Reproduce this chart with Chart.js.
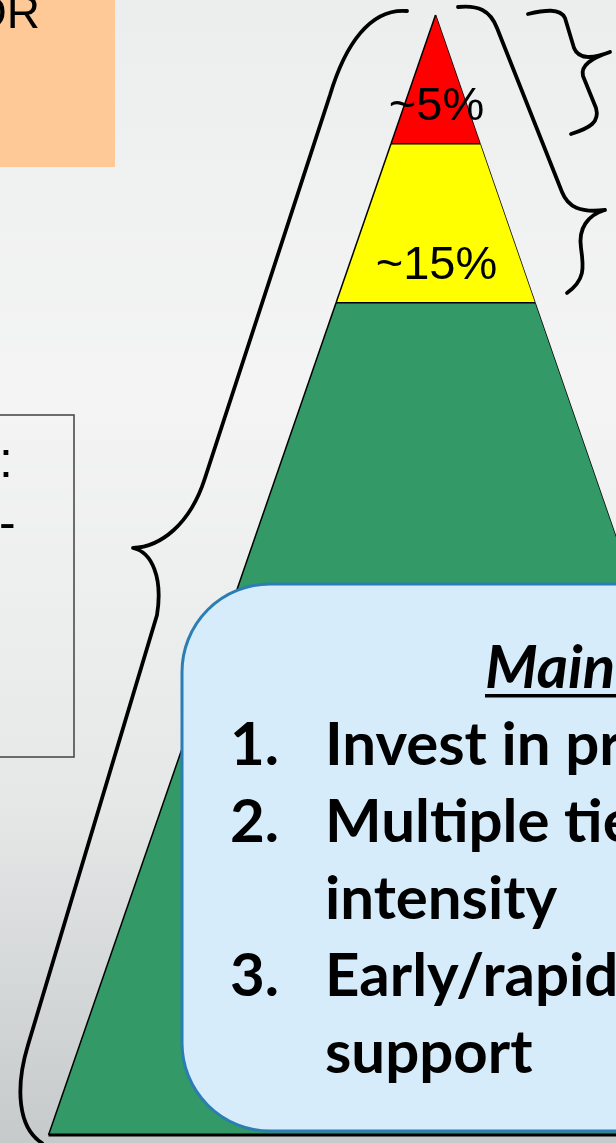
<!DOCTYPE html>
<html>
<head>
<meta charset="utf-8">
<title>Tiered support pyramid</title>
<script src="https://cdn.jsdelivr.net/npm/chart.js@4.4.1/dist/chart.umd.min.js"></script>
<style>
  html, body { margin: 0; padding: 0; }
  body {
    width: 616px; height: 1143px; overflow: hidden;
    background: linear-gradient(180deg, #eceeee 0%, #f4f4f4 35%, #e6e8e8 70%, #c6caca 100%);
  }
  canvas { display: block; }
</style>
</head>
<body>
<canvas id="pyramid" width="616" height="1143"></canvas>
<script>
// tiers, from the top of the pyramid down to the base
const tierNames = ['Tier 3', 'Tier 2', 'Tier 1'];
const tierLabels = ['~5%', '~15%', ''];
// tier edges as % of the pyramid height (apex = 100, base = 0)
const tierTops = [100, 88.5, 74.3];
const tierBottoms = [88.5, 74.3, 0];
const tierColors = ['#ff0000', '#ffff00', '#339966'];

// text of the call-out box (it runs off the slide on the right)
const boxTitle = 'Main';
const boxNumbers = ['1.', '2.', '', '3.', ''];
const boxLines = ['Invest in pr', 'Multiple tie', 'intensity', 'Early/rapid', 'support'];

// point on the left (-1) or right (+1) side of the pyramid at height v
const edge = (v, side) => ({ x: side * (100 - v) / 2, y: v });

const datasets = [];
// outlines first so they are drawn over the fills
tierBottoms.forEach(b => {
    datasets.push({
        data: [edge(b, -1), edge(b, 1)],
        borderColor: '#000',
        borderWidth: b === 0 ? 3 : 1.5,
        fill: false
    });
});
tierNames.forEach((name, i) => {
    datasets.push({
        label: name,
        data: [edge(tierBottoms[i], -1), edge(tierTops[i], -1)],
        borderColor: '#000',
        borderWidth: 1.5,
        backgroundColor: tierColors[i],
        fill: '+1'
    });
    datasets.push({
        label: name,
        data: [edge(tierBottoms[i], 1), edge(tierTops[i], 1)],
        borderColor: '#000',
        borderWidth: 1.5,
        fill: false
    });
});

function brace(ctx, parts) {
    ctx.beginPath();
    parts.forEach(p => {
        if (p.length === 2) ctx.moveTo(p[0], p[1]);
        else if (p.length === 3) ctx.lineTo(p[1], p[2]);
        else ctx.bezierCurveTo(...p);
    });
    ctx.stroke();
}

const annotations = {
    id: 'annotations',

    afterDatasetsDraw(chart) {
        const { ctx, scales: { x, y } } = chart;
        ctx.save();
        ctx.fillStyle = '#000';
        ctx.font = '47px "Liberation Sans", Arial, sans-serif';
        ctx.textAlign = 'center';
        ctx.textBaseline = 'alphabetic';
        tierLabels.forEach((label, i) => {
            if (!label) return;
            ctx.fillText(label, x.getPixelForValue(0) + 1, y.getPixelForValue(tierBottoms[i]) - 24);
        });
        ctx.restore();
    },

    afterDraw(chart) {
        const { ctx } = chart;
        ctx.save();

        // orange note, top left
        ctx.fillStyle = '#fec996';
        ctx.fillRect(0, 0, 115, 167);
        ctx.fillStyle = '#000';
        ctx.font = '46px "Liberation Sans", Arial, sans-serif';
        ctx.textAlign = 'right';
        ctx.fillText('OR', 40, 28);

        // framed note, left
        ctx.strokeStyle = '#404040';
        ctx.lineWidth = 1.5;
        ctx.strokeRect(-2, 415, 76, 342);
        ctx.textAlign = 'left';
        ctx.font = '50px "Liberation Sans", Arial, sans-serif';
        ctx.fillText(':', -1, 477);
        ctx.fillText('-', -1, 539);

        // braces
        ctx.strokeStyle = '#000';
        ctx.lineWidth = 3.8;
        ctx.lineCap = 'round';
        ctx.lineJoin = 'round';
        brace(ctx, [
            [407, 11],
            [370, 8, 345, 45, 330, 95],
            ['l', 205, 478],
            [190, 525, 160, 547, 133, 548],
            [152, 552, 163, 578, 157, 615],
            ['l', 28, 1045],
            [15, 1088, 18, 1128, 42, 1143]
        ]);
        brace(ctx, [
            [458, 7],
            [478, 5, 490, 10, 497, 28],
            ['l', 562, 192],
            [568, 207, 580, 213, 605, 210],
            [605, 210],
            [588, 215, 578, 228, 581, 248],
            [584, 268, 585, 280, 567, 293]
        ]);
        brace(ctx, [
            [528, 14],
            [545, 10, 560, 8, 565, 18],
            ['l', 574, 48],
            [578, 58, 590, 60, 610, 52],
            [610, 52],
            [592, 58, 580, 65, 583, 76],
            ['l', 596, 108],
            [600, 122, 590, 128, 571, 134]
        ]);

        // call-out box
        ctx.beginPath();
        ctx.roundRect(182, 584, 540, 547, 88);
        ctx.fillStyle = '#d6ecfa';
        ctx.fill();
        ctx.strokeStyle = '#2b7db3';
        ctx.lineWidth = 3;
        ctx.stroke();

        ctx.fillStyle = '#000';
        ctx.textAlign = 'left';
        ctx.font = 'italic bold 60px Lato, "Open Sans", sans-serif';
        ctx.fillText(boxTitle, 485, 688);
        ctx.fillRect(485, 694, ctx.measureText(boxTitle).width + 40, 3.5);

        ctx.font = 'bold 60px Lato, "Open Sans", sans-serif';
        boxLines.forEach((line, i) => {
            const base = 765 + i * 77;
            if (boxNumbers[i]) ctx.fillText(boxNumbers[i], 230, base);
            ctx.fillText(line, 325, base);
        });

        ctx.restore();
    }
};

new Chart(
    document.getElementById('pyramid'),
    {
        type: 'line',
        plugins: [annotations],
        data: { datasets },
        options: {
            indexAxis: 'y',
            responsive: false,
            animation: false,
            layout: { padding: 0 },
            elements: {
                point: { radius: 0, hoverRadius: 0 },
                line: { tension: 0 }
            },
            plugins: {
                legend: { display: false },
                tooltip: { enabled: false }
            },
            scales: {
                x: { type: 'linear', display: false, bounds: 'data', min: -56.27, max: 23.32 },
                y: { type: 'linear', display: false, bounds: 'data', min: -0.714, max: 101.34 }
            }
        }
    }
);
</script>
</body>
</html>
